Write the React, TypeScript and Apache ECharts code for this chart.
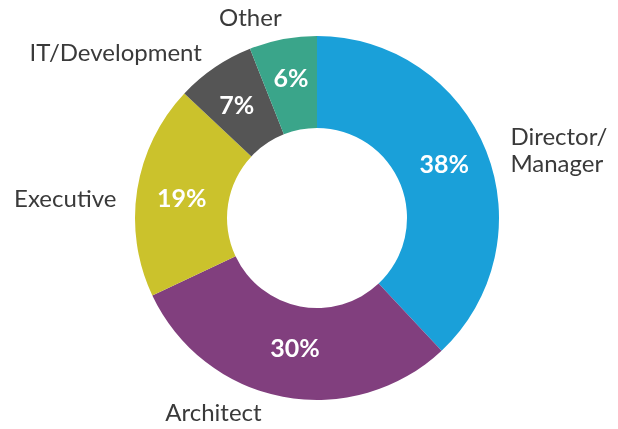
import React, { useEffect, useRef } from "react";
import * as echarts from "echarts";

const categories = ["Director/\nManager", "Architect", "Executive", "IT/Development", "Other"];
const values = [38, 30, 19, 7, 6];
const colors = ["#1aa0d9", "#813f7e", "#cbc22c", "#555555", "#3aa58a"];
// small label nudges (style only)
const nameNudge = [[0, 2], [-6, 3], [4, 10], [7, -6], [14, -11]];
const pctNudge = [[-2, -4], [4, -8], [2, 1], [-2, 1], [0, -4]];

export default function App() {
  const ref = useRef<HTMLDivElement>(null);
  useEffect(() => {
    const chart = echarts.init(ref.current!, null, { renderer: "svg" });
    const data = categories.map((name, i) => ({ name, value: values[i], itemStyle: { color: colors[i] } }));
    chart.setOption({
      animation: false,
      series: [
        {
          type: "pie",
          center: [317, 218],
          radius: [90, 182],
          startAngle: 90,
          clockwise: true,
          silent: true,
          data,
          label: {
            show: true,
            position: "inside",
            formatter: "{c}%",
            color: "#ffffff",
            fontFamily: "Lato",
            fontWeight: "bold",
            fontSize: 25,
          },
          labelLine: { show: false },
          labelLayout: (p: any) => ({ dx: pctNudge[p.dataIndex][0], dy: pctNudge[p.dataIndex][1] }),
        },
        {
          type: "pie",
          center: [317, 218],
          radius: [90, 182],
          startAngle: 90,
          clockwise: true,
          silent: true,
          data: categories.map((name, i) => ({ name, value: values[i] })),
          itemStyle: { color: "rgba(0,0,0,0)" },
          label: {
            show: true,
            position: "outside",
            formatter: "{b}",
            color: "#3a3a3a",
            fontFamily: "Lato",
            fontSize: 24,
            lineHeight: 27,
          },
          labelLine: { show: false, length: 12, length2: 8 },
          labelLayout: (p: any) => ({ dx: nameNudge[p.dataIndex][0], dy: nameNudge[p.dataIndex][1] }),
        },
      ],
    });
    return () => chart.dispose();
  }, []);
  return <div ref={ref} style={{ position: "fixed", left: 0, top: 0, width: 618, height: 429 }} />;
}
